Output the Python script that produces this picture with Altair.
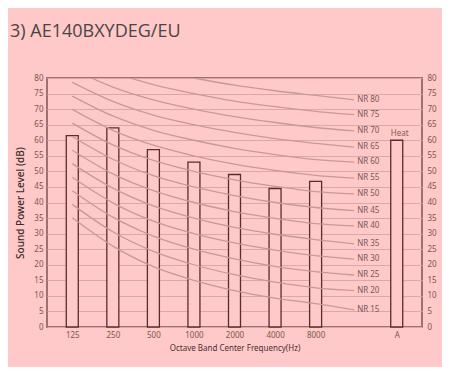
import altair as alt
import pandas as pd

# ---- data ----
bands = ["125", "250", "500", "1000", "2000", "4000", "8000", "A"]
band_pos = [0, 1, 2, 3, 4, 5, 6, 8]
levels = [61.5, 64.0, 57.0, 53.0, 49.0, 44.5, 46.8, 60.0]

nr_names = [15, 20, 25, 30, 35, 40, 45, 50, 55, 60, 65, 70, 75, 80]
nr_125 = [35.1, 39.4, 43.8, 48.1, 52.5, 56.8, 61.2, 65.5, 69.9, 74.2, 78.6, 82.9, 87.3, 91.6]
nr_250 = [26.0, 30.6, 35.3, 39.9, 44.6, 49.2, 53.9, 58.5, 63.2, 67.8, 72.5, 77.1, 81.8, 86.4]
nr_500 = [19.4, 24.3, 29.2, 34.0, 38.9, 43.8, 48.6, 53.5, 58.4, 63.2, 68.1, 73.0, 77.9, 82.7]
nr_1000 = [15.0, 20.0, 25.0, 30.0, 35.0, 40.0, 45.0, 50.0, 55.0, 60.0, 65.0, 70.0, 75.0, 80.0]
nr_2000 = [11.7, 16.8, 21.9, 27.0, 32.0, 37.1, 42.2, 47.3, 52.3, 57.4, 62.5, 67.6, 72.6, 77.7]
nr_4000 = [9.3, 14.4, 19.5, 24.7, 29.8, 34.9, 40.0, 45.2, 50.3, 55.4, 60.5, 65.7, 70.8, 75.9]
nr_8000 = [7.5, 12.6, 17.8, 22.9, 28.1, 33.2, 38.4, 43.5, 48.7, 53.8, 59.0, 64.1, 69.3, 74.4]
nr_label_level = [5.5, 11.7, 16.7, 21.8, 26.7, 32.5, 37.4, 42.8, 47.8, 53.0, 57.8, 63.0, 68.2, 73.0]
nr_label_pos = 6.95

heat_label = "Heat"
y_ticks = list(range(0, 81, 5))

# ---- tables ----
bars = pd.DataFrame({"band": bands, "pos": band_pos, "level": levels})

curve_cols = [nr_125, nr_250, nr_500, nr_1000, nr_2000, nr_4000, nr_8000]
rows = []
for i, nr in enumerate(nr_names):
    for p, col in enumerate(curve_cols):
        rows.append({"nr": nr, "pos": p, "level": col[i]})
    rows.append({"nr": nr, "pos": nr_label_pos, "level": nr_label_level[i]})
curves = pd.DataFrame(rows)

labels = pd.DataFrame({
    "nr": nr_names,
    "txt": [f"NR {n}" for n in nr_names],
    "pos": [nr_label_pos] * len(nr_names),
    "level": nr_label_level,
})

heat = pd.DataFrame({"pos": [band_pos[-1]], "level": [levels[-1]], "txt": [heat_label]})

FONT = "Noto Sans"
LABEL_COLOR = "#7e5548"

label_expr = ("datum.value == 0 ? '125' : datum.value == 1 ? '250' : datum.value == 2 ? '500' : "
              "datum.value == 3 ? '1000' : datum.value == 4 ? '2000' : datum.value == 5 ? '4000' : "
              "datum.value == 6 ? '8000' : datum.value == 8 ? 'A' : ''")

xscale = alt.Scale(domain=[-0.5, 8.5], nice=False, zero=False)
yscale = alt.Scale(domain=[0, 80], nice=False)

x_enc = alt.X("pos:Q", scale=xscale, axis=alt.Axis(
    values=band_pos, labelExpr=label_expr, title="Octave Band Center Frequency(Hz)",
    grid=False, ticks=False, domain=False, labelFontSize=8, labelColor=LABEL_COLOR,
    labelFont=FONT, labelPadding=4, titleFont=FONT, titleFontSize=8, titleFontWeight="normal",
    titleColor="#4a3030", titlePadding=5))

y_axis_left = alt.Axis(
    values=y_ticks, title="Sound Power Level (dB)", grid=True, gridColor="#dba7a7",
    gridWidth=1, ticks=False, domain=False, labelFontSize=8, labelColor=LABEL_COLOR,
    labelFont=FONT, labelPadding=4, titleFont=FONT, titleFontSize=10,
    titleFontWeight=500, titleColor="#3d2b2b", titlePadding=8)
y_enc = alt.Y("level:Q", scale=yscale, axis=y_axis_left)

bar_layer = alt.Chart(bars).mark_bar(
    size=12, fill="#ffc9c9", stroke="#5e2a2a", strokeWidth=1.3
).encode(x=x_enc, y=y_enc)

curve_layer = alt.Chart(curves).mark_line(
    interpolate="monotone", color="#c69a9a", strokeWidth=1.3, clip=True
).encode(x=x_enc, y=y_enc, detail="nr:N")

label_layer = alt.Chart(labels).mark_text(
    align="left", baseline="middle", dx=3, fontSize=8, font=FONT, color="#7a5656"
).encode(x=x_enc, y=y_enc, text="txt:N")

heat_layer = alt.Chart(heat).mark_text(
    align="center", baseline="bottom", dy=-2, dx=3, fontSize=8, font=FONT, color="#8a5a48"
).encode(x=x_enc, y=y_enc, text="txt:N")

left = alt.layer(bar_layer, curve_layer, label_layer, heat_layer)

right = alt.Chart(bars).mark_tick(opacity=0).encode(
    x=x_enc,
    y=alt.Y("level:Q", scale=yscale, axis=alt.Axis(
        orient="right", values=y_ticks, title=None, grid=False, ticks=False, domain=False,
        labelFontSize=8, labelColor=LABEL_COLOR, labelFont=FONT, labelPadding=5)),
)

chart = alt.layer(left, right).resolve_scale(y="independent").properties(
    width=375,
    height=249,
    autosize=alt.AutoSizeParams(type="none"),
    padding={"left": 39, "top": 70, "right": 20, "bottom": 40},
    background="#ffc9c9",
    title=alt.TitleParams(
        "3) AE140BXYDEG/EU", anchor="start", frame="group", dx=-37, offset=33,
        fontSize=18, font="Open Sans", fontWeight="normal", color="#4a4444",
    ),
).configure_view(stroke="#a07070", strokeWidth=2)

chart.save("out.html", embed_options={"renderer": "svg", "actions": False})
